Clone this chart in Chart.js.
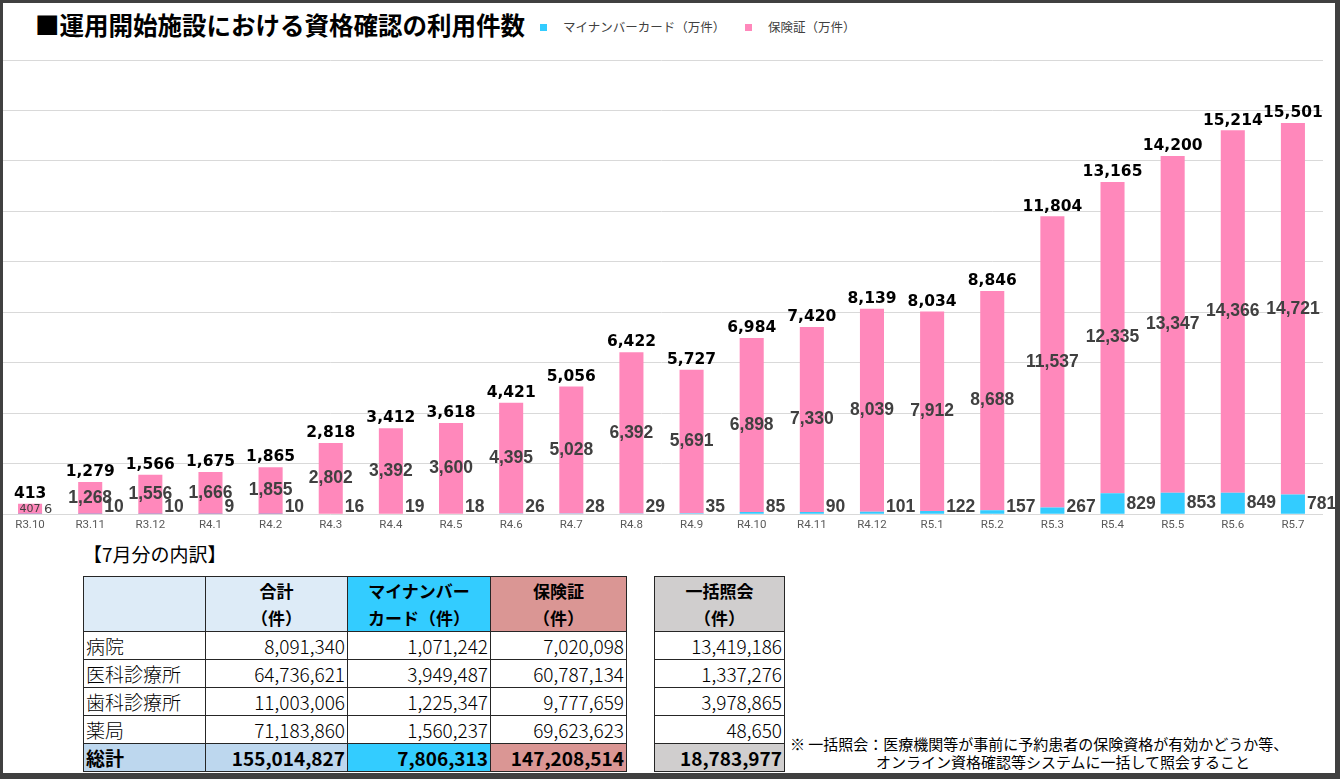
<!DOCTYPE html>
<html lang="ja">
<head>
<meta charset="utf-8">
<script src="https://cdn.jsdelivr.net/npm/chart.js@4.4.0/dist/chart.umd.min.js"></script>
<style>
    html, body { margin: 0; padding: 0; background: #fff; }
    body { width: 1340px; height: 779px; position: relative; overflow: hidden; font-family: "Noto Sans CJK JP", sans-serif; }
    #frame { position: absolute; left: 0; top: 0; width: 1340px; height: 779px; box-sizing: border-box;
        border-style: solid; border-color: #404040; border-width: 3px 5px 6px 3px; pointer-events: none; z-index: 10; }
    #title { position: absolute; left: 35px; top: 8px; font-size: 24.5px; font-weight: 700; color: #000; line-height: 34px; }
    .legend { position: absolute; top: 17px; font-size: 12.5px; color: #404040; line-height: 20px; }
    .legend i { display: inline-block; width: 7px; height: 7px; margin-right: 16px; vertical-align: 1px; }
    #chartBox { position: absolute; left: 0; top: 40px; width: 1340px; height: 496px; }
    #subTitle { position: absolute; left: 83px; top: 541px; font-size: 19px; line-height: 26px; color: #000; }
    table { position: absolute; border-collapse: collapse; table-layout: fixed; }
    td, th { border: 1px solid #262626; padding: 0 2px; height: 27px; font-size: 19px; color: #000; white-space: nowrap; }
    th { font-size: 17px; font-weight: 700; line-height: 27px; height: 54px; text-align: center; }
    td { text-align: right; font-weight: 300; line-height: 27px; }
    td.name { text-align: left; }
    tr.sum td { font-weight: 700; }
    #note { position: absolute; left: 790px; top: 735px; font-size: 15px; line-height: 18px; color: #000; }
</style>
</head>
<body>
<div id="frame"></div>
<div id="title">■運用開始施設における資格確認の利用件数</div>
<div class="legend" style="left:540px"><i style="background:#33ccff"></i>マイナンバーカード（万件）</div>
<div class="legend" style="left:745px"><i style="background:#ff88bb"></i>保険証（万件）</div>
<div id="chartBox"><canvas id="usageChart"></canvas></div>
<div id="subTitle">【7月分の内訳】</div>
<table id="mainTable" style="left:83px; top:576px;">
    <colgroup><col style="width:122px"><col style="width:142px"><col style="width:143px"><col style="width:136px"></colgroup>
    <thead></thead>
    <tbody></tbody>
</table>
<table id="bulkTable" style="left:654px; top:576px;">
    <colgroup><col style="width:130px"></colgroup>
    <thead></thead>
    <tbody></tbody>
</table>
<div id="note">※ 一括照会：医療機関等が事前に予約患者の保険資格が有効かどうか等、<br><span style="padding-left:86px">オンライン資格確認等システムに一括して照会すること</span></div>

<script>
// 月（横軸）
const months = ['R3.10', 'R3.11', 'R3.12', 'R4.1', 'R4.2', 'R4.3', 'R4.4', 'R4.5', 'R4.6', 'R4.7', 'R4.8', 'R4.9',
    'R4.10', 'R4.11', 'R4.12', 'R5.1', 'R5.2', 'R5.3', 'R5.4', 'R5.5', 'R5.6', 'R5.7'];
// マイナンバーカード（万件）
const myNumberData = [6, 10, 10, 9, 10, 16, 19, 18, 26, 28, 29, 35, 85, 90, 101, 122, 157, 267, 829, 853, 849, 781];
// 保険証（万件）
const hokenData = [407, 1268, 1556, 1666, 1855, 2802, 3392, 3600, 4395, 5028, 6392, 5691, 6898, 7330, 8039, 7912, 8688,
    11537, 12335, 13347, 14366, 14721];
// 合計（万件）
const totalData = [413, 1279, 1566, 1675, 1865, 2818, 3412, 3618, 4421, 5056, 6422, 5727, 6984, 7420, 8139, 8034, 8846,
    11804, 13165, 14200, 15214, 15501];

// 7月分の内訳
const tableHeaders = ['', '合計<br>（件）', 'マイナンバー<br>カード（件）', '保険証<br>（件）'];
const headerColors = ['#ddebf7', '#ddebf7', '#33ccff', '#da9694'];
const sumColors = ['#bdd7ee', '#bdd7ee', '#33ccff', '#da9694'];
const facilityNames = ['病院', '医科診療所', '歯科診療所', '薬局', '総計'];
const totalCounts = ['8,091,340', '64,736,621', '11,003,006', '71,183,860', '155,014,827'];
const myNumberCounts = ['1,071,242', '3,949,487', '1,225,347', '1,560,237', '7,806,313'];
const hokenCounts = ['7,020,098', '60,787,134', '9,777,659', '69,623,623', '147,208,514'];
const bulkCounts = ['13,419,186', '1,337,276', '3,978,865', '48,650', '18,783,977'];

const fmt = v => v.toLocaleString('en-US');

// 棒の上・中・横に数値を描くプラグイン
const valueLabels = {
    id: 'valueLabels',
    afterDatasetsDraw(chart) {
        const ctx = chart.ctx;
        const blueMeta = chart.getDatasetMeta(0);
        const pinkMeta = chart.getDatasetMeta(1);
        const base = chart.scales.y.getPixelForValue(0);
        ctx.save();
        blueMeta.data.forEach((blueBar, i) => {
            const pinkBar = pinkMeta.data[i];
            const small = (blueBar.y - pinkBar.y) < 15;

            // 合計
            ctx.fillStyle = '#000';
            ctx.textAlign = 'center';
            ctx.textBaseline = 'bottom';
            ctx.font = 'bold 15.5px "DejaVu Sans"';
            ctx.fillText(fmt(totalData[i]), pinkBar.x, pinkBar.y - 2);

            // 保険証
            ctx.fillStyle = '#404040';
            ctx.textBaseline = 'middle';
            ctx.font = small ? '11px "DejaVu Sans"' : 'bold 17.5px "Liberation Sans"';
            ctx.fillText(fmt(hokenData[i]), pinkBar.x, (pinkBar.y + blueBar.y) / 2);

            // マイナンバーカード
            ctx.textAlign = 'left';
            ctx.font = small ? '13px "DejaVu Sans"' : 'bold 17.5px "Liberation Sans"';
            const right = blueBar.x + blueBar.width / 2;
            const yMid = Math.min((blueBar.y + base) / 2, base - (small ? 5 : 7));
            ctx.fillText(fmt(myNumberData[i]), right + 2, yMid);
        });
        ctx.restore();
    }
};

function initUsageChart() {
    const ctx = document.getElementById('usageChart');
    new Chart(ctx, {
        type: 'bar',
        data: {
            labels: months,
            datasets: [{
                label: 'マイナンバーカード（万件）',
                data: myNumberData,
                backgroundColor: '#33ccff'
            }, {
                label: '保険証（万件）',
                data: hokenData,
                backgroundColor: '#ff88bb'
            }]
        },
        options: {
            responsive: true,
            maintainAspectRatio: false,
            animation: false,
            layout: { padding: { top: 20, left: 0, right: 17, bottom: 0 } },
            datasets: { bar: { categoryPercentage: 1, barPercentage: 0.4 } },
            plugins: {
                legend: { display: false },
                tooltip: { enabled: false }
            },
            scales: {
                x: {
                    stacked: true,
                    grid: { display: false, drawTicks: false },
                    border: { display: false },
                    ticks: {
                        color: '#595959',
                        padding: 4,
                        font: { family: 'Roboto', size: 11.5 }
                    }
                },
                y: {
                    stacked: true,
                    min: 0,
                    max: 18000,
                    grid: { color: '#d9d9d9', drawTicks: false },
                    border: { display: false },
                    ticks: { display: false, stepSize: 2000 }
                }
            }
        },
        plugins: [valueLabels]
    });
}

function buildTables() {
    const main = document.getElementById('mainTable');
    main.tHead.innerHTML = '<tr>' + tableHeaders.map((h, i) =>
        `<th style="background:${headerColors[i]}">${h}</th>`).join('') + '</tr>';
    main.tBodies[0].innerHTML = facilityNames.map((name, r) => {
        const last = r === facilityNames.length - 1;
        const bg = c => last ? ` style="background:${sumColors[c]}"` : '';
        return `<tr class="${last ? 'sum' : ''}">` +
            `<td class="name"${bg(0)}>${name}</td>` +
            `<td${bg(1)}>${totalCounts[r]}</td>` +
            `<td${bg(2)}>${myNumberCounts[r]}</td>` +
            `<td${bg(3)}>${hokenCounts[r]}</td></tr>`;
    }).join('');

    const bulk = document.getElementById('bulkTable');
    bulk.tHead.innerHTML = '<tr><th style="background:#d0cece">一括照会<br>（件）</th></tr>';
    bulk.tBodies[0].innerHTML = bulkCounts.map((v, r) => {
        const last = r === bulkCounts.length - 1;
        return `<tr class="${last ? 'sum' : ''}"><td${last ? ' style="background:#d0cece"' : ''}>${v}</td></tr>`;
    }).join('');
}

document.addEventListener('DOMContentLoaded', function() {
    buildTables();
    initUsageChart();
});
</script>
</body>
</html>
